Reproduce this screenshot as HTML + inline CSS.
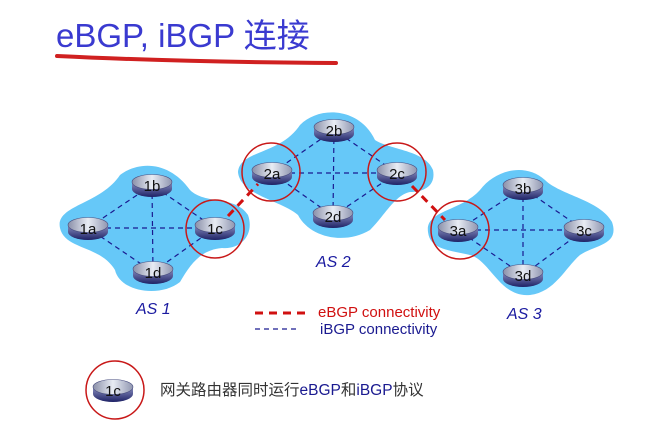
<!DOCTYPE html>
<html><head><meta charset="utf-8"><style>
html,body{margin:0;padding:0;background:#fff;width:659px;height:423px;overflow:hidden}
svg{display:block}
</style></head><body>
<svg width="659" height="423" viewBox="0 0 659 423" xmlns="http://www.w3.org/2000/svg" font-family="'Liberation Sans','Noto Sans CJK SC',sans-serif">
<defs>
<linearGradient id="rb" x1="0" y1="0" x2="0" y2="1"><stop offset="0" stop-color="#8a8fc0"/><stop offset="1" stop-color="#1e2266"/></linearGradient>
<linearGradient id="rt" x1="0" y1="0" x2="1" y2="0"><stop offset="0" stop-color="#8a8fa8"/><stop offset="0.5" stop-color="#e8ecf4"/><stop offset="1" stop-color="#9096b0"/></linearGradient>
<g id="r">
<path d="M-20,-3 L-20,4 A20,8 0 0 0 20,4 L20,-3 Z" fill="url(#rb)"/>
<ellipse cx="0" cy="-3" rx="20" ry="7.5" fill="url(#rt)" stroke="#4a4f80" stroke-width="0.6"/>
</g>
</defs>
<text x="56" y="47" font-size="33" fill="#3a3ad0" font-family="'Liberation Sans','Noto Sans CJK SC',sans-serif">eBGP, iBGP 连接</text>
<path d="M57,56 Q180,62 336,63" stroke="#d02020" stroke-width="4" fill="none" stroke-linecap="round"/>
<path d="M60,228 C55,205 100,205 120,175 C140,160 170,162 190,190 C205,205 235,195 248,215 C255,235 240,250 222,248 C200,250 190,265 180,282 C160,298 120,292 115,270 C100,245 65,250 60,228 Z" fill="#66c8f8"/>
<path d="M238,172 C240,150 280,155 300,125 C320,105 360,108 375,140 C390,150 425,150 433,170 C436,185 425,192 410,192 C395,195 385,215 370,230 C345,245 310,238 298,215 C280,200 240,195 238,172 Z" fill="#66c8f8"/>
<path d="M428,232 C425,210 460,212 480,190 C495,170 525,162 545,180 C560,195 600,200 612,222 C620,245 595,245 580,255 C565,268 555,292 530,295 C500,298 490,260 470,255 C450,250 430,250 428,232 Z" fill="#66c8f8"/>
<g stroke="#1a1a90" stroke-width="1.2" stroke-dasharray="5,4" fill="none">
<path d="M88,228 L152,185 L215,228 L153,272 Z M88,228 L215,228 M152,185 L153,272"/>
<path d="M272,173 L334,130 L397,173 L333,216 Z M272,173 L397,173 M334,130 L333,216"/>
<path d="M458,230 L523,188 L584,230 L523,275 Z M458,230 L584,230 M523,188 L523,275"/>
<path d="M255,329 L300,329"/>
</g>
<g stroke="#d01010" stroke-width="3" stroke-dasharray="8,6" fill="none">
<path d="M228,216 L258,184 M412,186 L445,220 M255,313 L305,313"/>
</g>
<g font-size="15" fill="#111" text-anchor="middle">
<use href="#r" x="88" y="228"/><text x="88" y="234">1a</text>
<use href="#r" x="152" y="185"/><text x="152" y="191">1b</text>
<use href="#r" x="215" y="228"/><text x="215" y="234">1c</text>
<use href="#r" x="153" y="272"/><text x="153" y="278">1d</text>
<use href="#r" x="272" y="173"/><text x="272" y="179">2a</text>
<use href="#r" x="334" y="130"/><text x="334" y="136">2b</text>
<use href="#r" x="397" y="173"/><text x="397" y="179">2c</text>
<use href="#r" x="333" y="216"/><text x="333" y="222">2d</text>
<use href="#r" x="458" y="230"/><text x="458" y="236">3a</text>
<use href="#r" x="523" y="188"/><text x="523" y="194">3b</text>
<use href="#r" x="584" y="230"/><text x="584" y="236">3c</text>
<use href="#r" x="523" y="275"/><text x="523" y="281">3d</text>
<use href="#r" x="113" y="390"/><text x="113" y="396">1c</text>
</g>
<g stroke="#c81818" stroke-width="1.5" fill="none">
<circle cx="215" cy="229" r="29"/>
<circle cx="271" cy="172" r="29"/>
<circle cx="397" cy="172" r="29"/>
<circle cx="460" cy="230" r="29"/>
<circle cx="115" cy="390" r="29"/>
</g>
<g font-size="16" fill="#1a1aa0" font-style="italic">
<text x="136" y="314">AS 1</text>
<text x="316" y="267">AS 2</text>
<text x="507" y="319">AS 3</text>
</g>
<text x="318" y="317" font-size="15" fill="#d01010">eBGP connectivity</text>
<text x="320" y="334" font-size="15" fill="#1a1a90">iBGP connectivity</text>
<text x="160" y="395" font-size="15.5" fill="#333">网关路由器同时运行<tspan fill="#1a1a90">eBGP</tspan>和<tspan fill="#1a1a90">iBGP</tspan>协议</text>
</svg>
</body></html>
